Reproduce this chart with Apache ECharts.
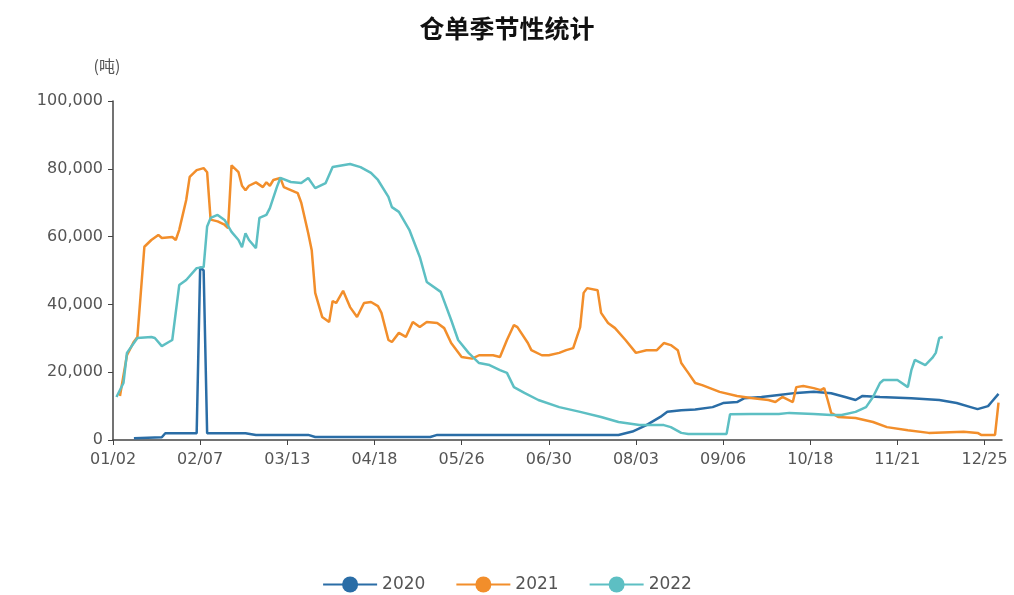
<!DOCTYPE html>
<html>
<head>
<meta charset="utf-8">
<script src="https://cdn.jsdelivr.net/npm/echarts@6/dist/echarts.min.js"></script>
<style>html,body{margin:0;padding:0;background:#fff}#c{width:1014px;height:595px}</style>
</head>
<body>
<div id="c"></div>
<script>
// x = trading-day index within the year; tick labels every 25 trading days
const tickLabels = ['01/02','02/07','03/13','04/18','05/26','06/30','08/03','09/06','10/18','11/21','12/25'];
const tickStep = 25;
const yTicks = [0, 20000, 40000, 60000, 80000, 100000];
const seriesNames = ['2020', '2021', '2022'];

const s2020 = [[6,500],[14,800],[15,2000],[24,2000],[25,51000],[26,50000],[27,2000],[38,2000],[41,1500],[56,1500],[58,900],[91,900],[93,1500],[145,1500],[149,2500],[153,4400],[157,6800],[159,8300],[163,8800],[167,9000],[172,9700],[175,10900],[179,11200],[181,12300],[186,12700],[191,13300],[196,13900],[201,14200],[206,13800],[210,12700],[213,11800],[215,13000],[220,12700],[229,12300],[237,11800],[242,10900],[246,9700],[248,9100],[251,10000],[252,11200],[254,13600]];

const s2021 = [[2,13000],[4,25000],[6,29000],[7,30400],[9,57000],[11,59000],[13,60500],[14,59600],[17,59900],[18,59000],[19,62000],[20,66400],[21,70800],[22,77600],[24,79600],[26,80200],[27,79000],[28,65000],[30,64500],[32,63500],[33,62500],[34,81000],[36,79000],[37,75000],[38,73700],[39,75000],[41,76000],[43,74600],[44,76000],[45,75000],[46,76700],[48,77300],[49,74600],[51,73700],[53,72800],[54,70000],[56,61000],[57,56000],[58,43400],[60,36300],[62,34800],[63,41000],[64,40400],[66,44000],[68,39200],[70,36300],[72,40400],[74,40700],[76,39500],[77,37500],[79,29500],[80,28900],[82,31600],[84,30400],[86,34800],[88,33300],[90,34800],[93,34500],[95,33000],[97,28600],[100,24500],[103,24000],[105,25000],[109,25000],[111,24500],[113,29500],[115,33900],[116,33300],[119,28600],[120,26500],[123,25000],[125,25000],[128,25700],[130,26500],[132,27100],[134,33300],[135,43400],[136,44800],[139,44200],[140,37500],[142,34500],[144,33000],[147,29500],[150,25700],[153,26500],[156,26500],[158,28600],[160,28000],[162,26500],[163,22700],[165,19800],[167,16800],[169,16200],[174,14200],[179,13000],[183,12400],[188,11800],[190,11200],[192,12700],[195,11200],[196,15600],[198,15900],[201,15300],[203,14700],[204,15300],[205,11800],[206,8000],[208,6800],[213,6500],[218,5300],[222,3800],[228,2900],[234,2100],[244,2400],[248,2100],[249,1500],[253,1500],[254,11000]];

const s2022 = [[1,12700],[3,16800],[4,25700],[7,30100],[11,30400],[12,30100],[14,27700],[16,28900],[17,29500],[19,45700],[21,47200],[24,50700],[26,51000],[27,63000],[28,65500],[30,66400],[32,64900],[34,61400],[36,59000],[37,56900],[38,61000],[39,59000],[41,56600],[42,65500],[44,66400],[45,68400],[47,74600],[48,77300],[51,76100],[54,75800],[56,77300],[58,74300],[61,75800],[63,80500],[68,81400],[71,80500],[74,78800],[76,76700],[79,71700],[80,68700],[82,67300],[85,62000],[88,54000],[90,46600],[94,43700],[97,35400],[99,29500],[102,25700],[105,22700],[108,22100],[111,20600],[113,19800],[115,15600],[118,13900],[122,11800],[128,9700],[134,8300],[140,6800],[145,5300],[151,4400],[158,4400],[160,3800],[163,2100],[165,1800],[176,1800],[177,7600],[183,7700],[191,7700],[194,8000],[201,7700],[206,7400],[209,7400],[213,8300],[216,9700],[218,12700],[220,16800],[221,17700],[225,17700],[228,15600],[229,20600],[230,23600],[233,22100],[235,24200],[236,25700],[237,30100],[238,30400]];

const colors = ['#2a6da6', '#f28e2b', '#5dbfc3'];
const seriesData = [s2020, s2021, s2022];
const tickValues = tickLabels.map((_, i) => i * tickStep);

const chart = echarts.init(document.getElementById('c'));
chart.setOption({
  animation: false,
  color: colors,
  title: {
    text: '仓单季节性统计', left: 'center', top: 11,
    textStyle: { fontSize: 25, fontWeight: 'bold', color: '#111', fontFamily: 'Noto Sans CJK SC' }
  },
  legend: {
    top: 571, left: 'center', itemWidth: 54, itemHeight: 20, itemGap: 30,
    textStyle: { fontSize: 17, color: '#555', fontFamily: 'DejaVu Sans' },
    data: seriesNames
  },
  grid: { left: 113, right: 12, top: 101, bottom: 155 },
  xAxis: {
    type: 'value', min: 0, max: 255, interval: tickStep,
    splitLine: { show: false },
    axisLine: { lineStyle: { color: '#444', width: 1.5 } },
    axisTick: { length: 5, lineStyle: { color: '#444' }, customValues: tickValues },
    axisLabel: {
      customValues: tickValues, margin: 12, fontSize: 16, color: '#555', fontFamily: 'DejaVu Sans',
      formatter: v => tickLabels[Math.round(v / tickStep)] || ''
    }
  },
  yAxis: {
    type: 'value', min: 0, max: 100000, interval: 20000,
    name: '(吨)', nameGap: 27,
    nameTextStyle: { fontSize: 16, color: '#555', fontFamily: 'Noto Sans CJK SC', padding: [0, 12, 0, 0] },
    splitLine: { show: false },
    axisLine: { show: true, lineStyle: { color: '#444', width: 1.5 } },
    axisTick: { show: true, length: 5, lineStyle: { color: '#444' } },
    axisLabel: {
      margin: 10, fontSize: 16, color: '#555', fontFamily: 'DejaVu Sans',
      formatter: v => v.toLocaleString('en-US')
    }
  },
  series: seriesNames.map((n, i) => ({
    name: n, type: 'line', data: seriesData[i],
    symbol: 'circle', symbolSize: 16, showSymbol: false,
    lineStyle: { width: 2.5, color: colors[i] },
    itemStyle: { color: colors[i] }
  }))
});
</script>
</body>
</html>
